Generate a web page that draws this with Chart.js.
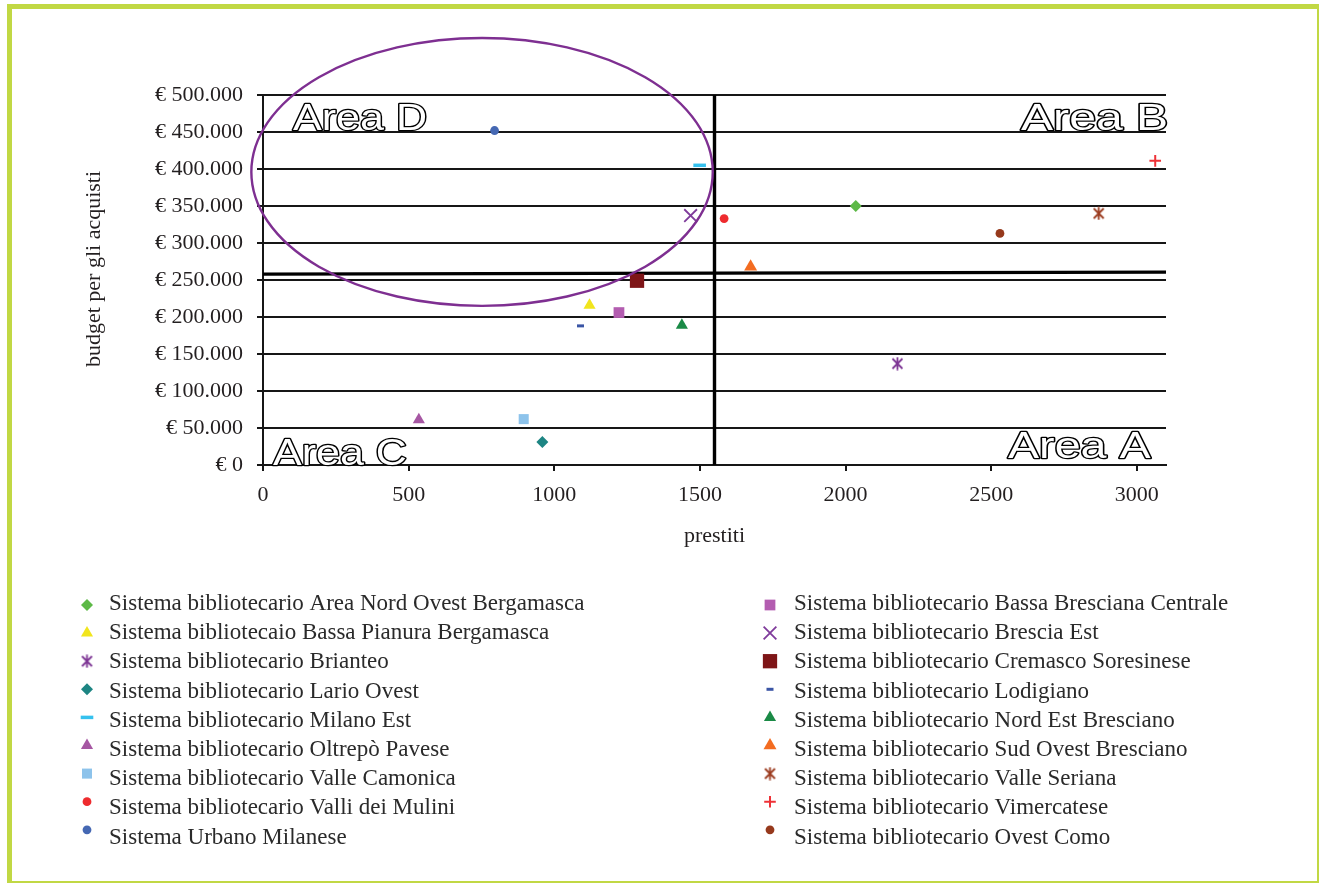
<!DOCTYPE html>
<html>
<head>
<meta charset="utf-8">
<script src="https://cdn.jsdelivr.net/npm/chart.js@4/dist/chart.umd.min.js"></script>
<style>
  html, body { margin: 0; padding: 0; background: #fff; }
  #wrap { position: relative; width: 1319px; height: 883px; overflow: hidden; }
  #frame { position: absolute; left: 7px; top: 4px; width: 1315px; height: 882px; box-sizing: border-box;
           border: 5px solid #c1d844; pointer-events: none; }
  canvas { position: absolute; left: 0; top: 0; }
</style>
</head>
<body>
<div id="wrap">
  <canvas id="chart" width="1319" height="883"></canvas>
  <div id="frame"></div>
</div>
<script>
// Library systems: loans (prestiti) vs. acquisition budget (euro)
const systems = [
  'Sistema bibliotecario Area Nord Ovest Bergamasca',
  'Sistema bibliotecaio Bassa Pianura Bergamasca',
  'Sistema bibliotecario Brianteo',
  'Sistema bibliotecario Lario Ovest',
  'Sistema bibliotecario Milano Est',
  'Sistema bibliotecario Oltrepò Pavese',
  'Sistema bibliotecario Valle Camonica',
  'Sistema bibliotecario Valli dei Mulini',
  'Sistema Urbano Milanese',
  'Sistema bibliotecario Bassa Bresciana Centrale',
  'Sistema bibliotecario Brescia Est',
  'Sistema bibliotecario Cremasco Soresinese',
  'Sistema bibliotecario Lodigiano',
  'Sistema bibliotecario Nord Est Bresciano',
  'Sistema bibliotecario Sud Ovest Bresciano',
  'Sistema bibliotecario Valle Seriana',
  'Sistema bibliotecario Vimercatese',
  'Sistema bibliotecario Ovest Como'
];
const prestiti = [2035, 1121, 2178, 959, 1499, 535, 895, 1583, 795,
                  1222, 1468, 1284, 1090, 1438, 1674, 2869, 3063, 2530];
const budget = [350000, 216000, 137000, 31000, 405000, 61000, 62000, 333000, 452000,
                206000, 337000, 249000, 188000, 189000, 268000, 340000, 411000, 313000];

// Quadrant dividers (loans threshold, budget threshold)
const loanThreshold = [{ x: 1550, y: 0 }, { x: 1550, y: 500000 }];
const budgetThreshold = [{ x: 0, y: 258000 }, { x: 3100, y: 260700 }];

// Axis ranges and tick values
const xRange = [0, 3100];
const yRange = [0, 500000];
const xTickValues = [0, 500, 1000, 1500, 2000, 2500, 3000];
const yTickValues = [0, 50000, 100000, 150000, 200000, 250000, 300000, 350000, 400000, 450000, 500000];

// Highlighted group (ellipse in data units)
const highlight = { cx: 752, cy: 396000, rx: 792, ry: 181000 };

// Marker styles, one per system
function asteriskMarker(color) {
  const c = document.createElement('canvas');
  c.width = 13; c.height = 14;
  const g = c.getContext('2d');
  g.strokeStyle = color; g.lineWidth = 1.8;
  g.beginPath();
  g.moveTo(1.5, 2); g.lineTo(11.5, 12);
  g.moveTo(11.5, 2); g.lineTo(1.5, 12);
  g.moveTo(6.5, 0.5); g.lineTo(6.5, 13.5);
  g.stroke();
  return c;
}
const colors = ['#5db947', '#f1e51d', '#7d3594', '#1d8583', '#35c1ee', '#a657a3', '#8dc3eb', '#ee2b2e', '#4568b3',
                '#b35db0', '#7f3b9b', '#7e1517', '#3a55a5', '#1a8a46', '#f36c21', '#9b3b1f', '#ee3237', '#96391c'];
const styles = ['rectRot', 'triangle', 'asterisk', 'rectRot', 'line', 'triangle', 'rect', 'circle', 'circle',
                'rect', 'crossRot', 'rect', 'line', 'triangle', 'triangle', 'asterisk', 'cross', 'circle'];
const radii = [6, 7, 7, 6, 6.3, 7, 7.1, 4.4, 4.4, 7.6, 9, 10.1, 3.5, 7, 7.5, 7, 5.8, 4.4];
const strokes = [0, 0, 0, 0, 3.5, 0, 0, 0, 0, 0, 1.8, 0, 3, 0, 0, 0, 2, 0];

const serif = "'Liberation Serif', 'Times New Roman', serif";
const textColor = '#231f20';
const gridColor = '#161616';

const pointDatasets = systems.map((name, i) => ({
  label: name,
  data: [{ x: prestiti[i], y: budget[i] }],
  pointStyle: styles[i] === 'asterisk' ? asteriskMarker(colors[i]) : styles[i],
  pointRadius: radii[i],
  pointHoverRadius: radii[i],
  pointBackgroundColor: colors[i],
  pointBorderColor: colors[i],
  pointBorderWidth: strokes[i],
  showLine: false,
  order: 0
}));

const dividerDatasets = [loanThreshold, budgetThreshold].map(d => ({
  label: '',
  data: d,
  showLine: true,
  borderColor: '#000',
  borderWidth: 3.4,
  pointRadius: 0,
  pointHoverRadius: 0,
  order: 5,
  divider: true
}));

const formatEuro = v => '€ ' + String(v).replace(/\B(?=(\d{3})+(?!\d))/g, '.');

// Ellipse, area captions and y title
const overlayPlugin = {
  id: 'overlay',
  afterDatasetsDraw(chart) {
    const { ctx, chartArea: a, scales: { x, y } } = chart;
    // ellipse around the highlighted group
    const cx = x.getPixelForValue(highlight.cx), cy = y.getPixelForValue(highlight.cy);
    const rx = x.getPixelForValue(highlight.cx + highlight.rx) - cx;
    const ry = cy - y.getPixelForValue(highlight.cy + highlight.ry);
    ctx.save();
    ctx.beginPath();
    ctx.ellipse(cx, cy, rx, ry, 0, 0, Math.PI * 2);
    ctx.strokeStyle = '#7e2f91';
    ctx.lineWidth = 2.4;
    ctx.stroke();
    ctx.restore();

    // outlined quadrant captions
    const captions = [
      { text: 'Area D', left: a.left + 30, width: 132, base: a.top + 35 },
      { text: 'Area B', left: a.right - 145, width: 145, base: a.top + 35 },
      { text: 'Area C', left: a.left + 10, width: 133, base: a.bottom },
      { text: 'Area A', left: a.right - 158, width: 143, base: a.bottom - 7 }
    ];
    ctx.save();
    ctx.font = "37px 'Liberation Sans', Arial, sans-serif";
    ctx.textAlign = 'left';
    ctx.textBaseline = 'alphabetic';
    ctx.lineJoin = 'round';
    captions.forEach(c => {
      const m = ctx.measureText(c.text);
      const ink = m.actualBoundingBoxLeft + m.actualBoundingBoxRight;
      ctx.save();
      ctx.translate(c.left, c.base);
      ctx.scale(c.width / ink, 1);
      ctx.lineWidth = 2.6;
      ctx.strokeStyle = '#000';
      ctx.strokeText(c.text, m.actualBoundingBoxLeft, 0);
      ctx.fillStyle = '#fff';
      ctx.fillText(c.text, m.actualBoundingBoxLeft, 0);
      ctx.restore();
    });
    ctx.restore();
  },
  afterDraw(chart) {
    const { ctx, chartArea: a } = chart;
    ctx.save();
    ctx.font = '22px ' + serif;
    ctx.fillStyle = textColor;
    ctx.textAlign = 'center';
    ctx.textBaseline = 'alphabetic';
    ctx.translate(100, a.top + 174);
    ctx.rotate(-Math.PI / 2);
    ctx.fillText('budget per gli acquisti', 0, 0);
    ctx.restore();
  }
};

// Two-column legend below the plot
const legendPlugin = {
  id: 'columnLegend',
  afterDraw(chart) {
    const { ctx } = chart;
    const cols = [{ marker: 87, text: 109 }, { marker: 770, text: 794 }];
    const perCol = 9;
    ctx.save();
    ctx.font = '23px ' + serif;
    ctx.textAlign = 'left';
    ctx.textBaseline = 'alphabetic';
    chart.data.datasets.forEach((ds, i) => {
      if (ds.divider) return;
      const col = cols[Math.floor(i / perCol)], row = i % perCol;
      const my = 605 + row * 28.1;
      ctx.fillStyle = ds.pointBackgroundColor;
      ctx.strokeStyle = ds.pointBorderColor;
      ctx.lineWidth = ds.pointBorderWidth;
      Chart.helpers.drawPoint(ctx, {
        pointStyle: ds.pointStyle, radius: ds.pointRadius,
        borderWidth: ds.pointBorderWidth, rotation: 0
      }, col.marker, my);
      ctx.fillStyle = '#2a2a2a';
      ctx.fillText(ds.label, col.text, 610 + row * 29.2);
    });
    ctx.restore();
  }
};

new Chart(document.getElementById('chart'), {
  type: 'scatter',
  data: { datasets: [...pointDatasets, ...dividerDatasets] },
  options: {
    responsive: false,
    animation: false,
    devicePixelRatio: 1,
    events: [],
    layout: { padding: { left: 0, top: 95, right: 153, bottom: 318 } },
    plugins: { legend: { display: false }, tooltip: { enabled: false } },
    scales: {
      x: {
        type: 'linear',
        min: xRange[0], max: xRange[1],
        afterBuildTicks: s => { s.ticks = xTickValues.map(v => ({ value: v })); },
        afterFit: s => { s.height = 100; },
        ticks: {
          padding: 11, maxRotation: 0, autoSkip: false,
          color: textColor, font: { family: serif, size: 22 },
          callback: v => String(v)
        },
        grid: { drawOnChartArea: false, drawTicks: true, tickLength: 6, color: gridColor, lineWidth: 2 },
        border: { display: true, color: gridColor, width: 2 },
        title: {
          display: true, text: 'prestiti', color: textColor,
          font: { family: serif, size: 22 }, padding: { top: 0, bottom: 16 }
        }
      },
      y: {
        type: 'linear',
        min: yRange[0], max: yRange[1],
        afterBuildTicks: s => { s.ticks = yTickValues.map(v => ({ value: v })); },
        afterFit: s => { s.width = 263; },
        ticks: {
          padding: 14, autoSkip: false,
          color: textColor, font: { family: serif, size: 22 },
          callback: v => formatEuro(v)
        },
        grid: { drawTicks: true, tickLength: 6, color: gridColor, lineWidth: 2 },
        border: { display: true, color: gridColor, width: 2 }
      }
    }
  },
  plugins: [overlayPlugin, legendPlugin]
});
</script>
</body>
</html>
